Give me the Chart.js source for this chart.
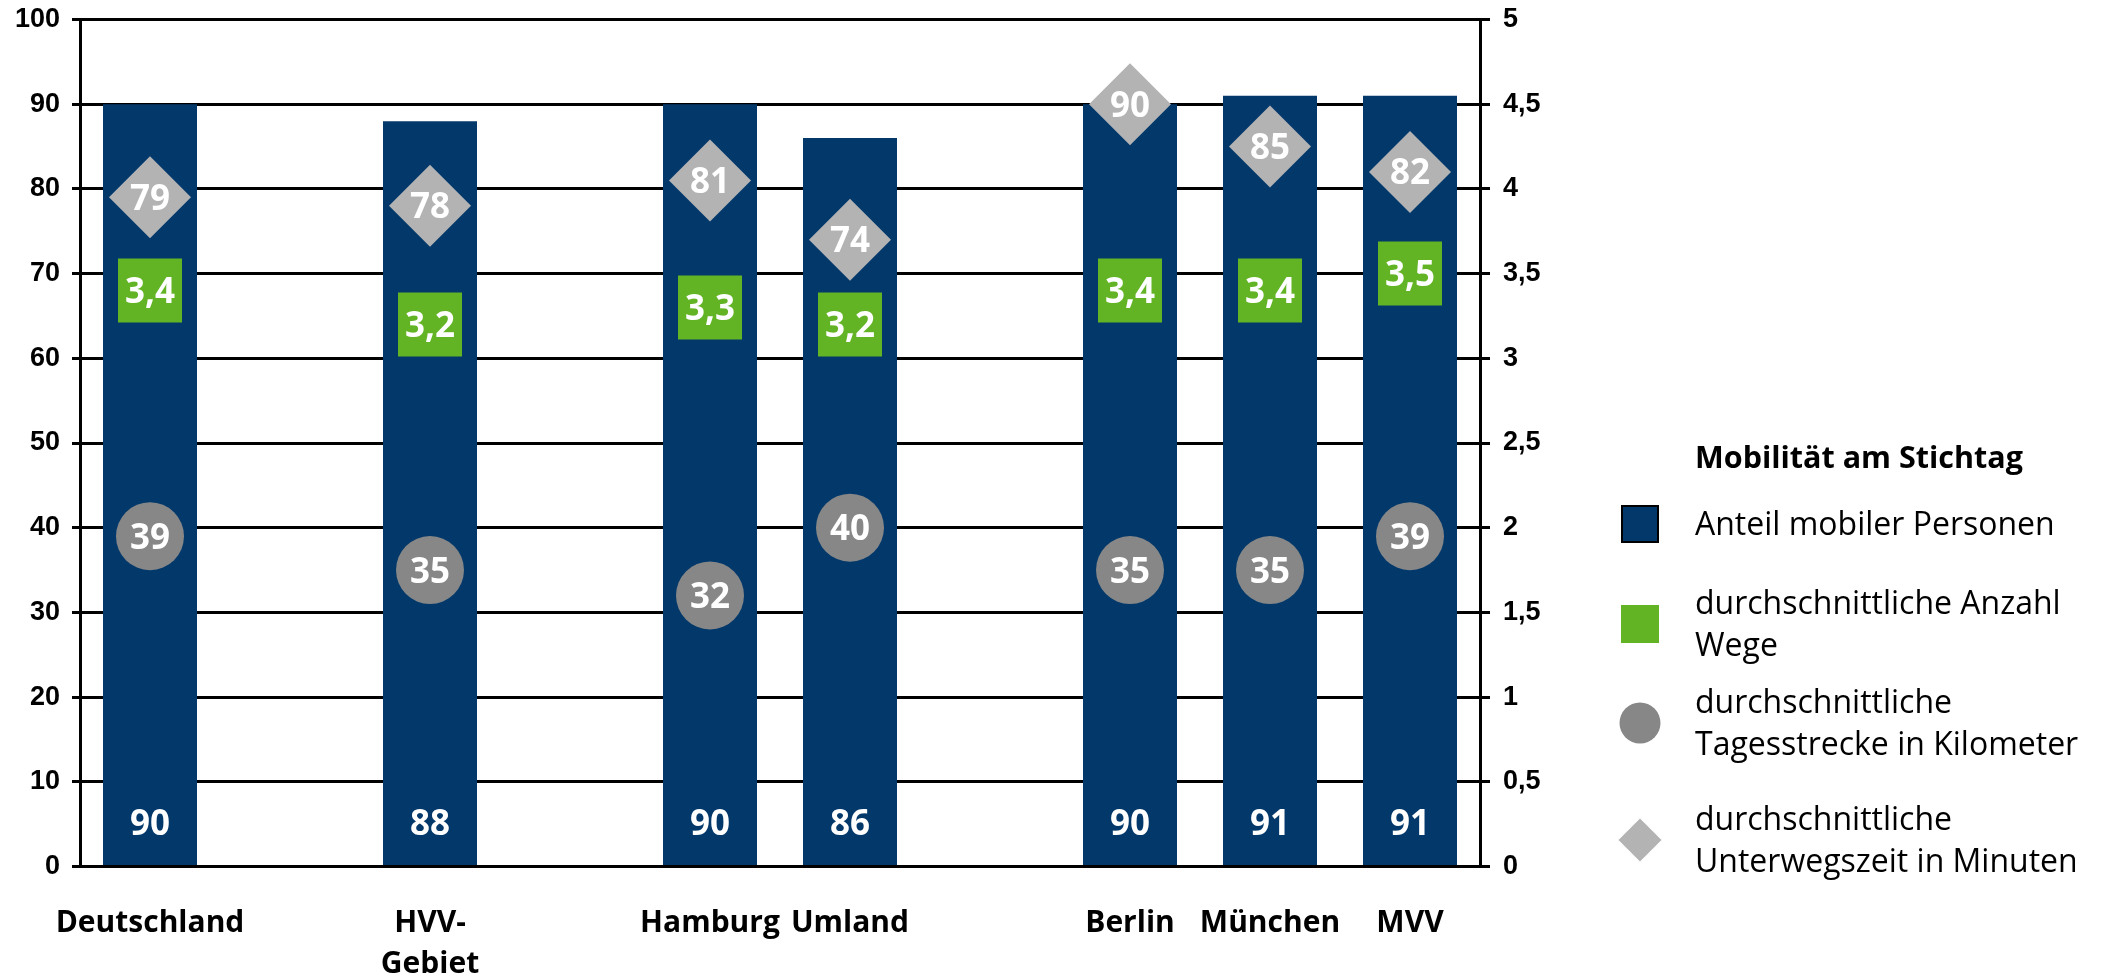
<!DOCTYPE html>
<html lang="de">
<head>
<meta charset="utf-8">
<title>Mobilität am Stichtag</title>
<script src="https://cdn.jsdelivr.net/npm/chart.js@4.4.1/dist/chart.umd.min.js"></script>
<style>
  html, body { margin: 0; padding: 0; background: #ffffff; }
  #wrap { position: relative; width: 2110px; height: 976px; }
  canvas { display: block; }
</style>
</head>
<body>
<div id="wrap"><canvas id="chart" width="2110" height="976"></canvas></div>
<script>
// Regions (empty strings are spacer slots between the groups)
const categories = ['Deutschland', '', ['HVV-', 'Gebiet'], '', 'Hamburg', 'Umland', '', 'Berlin', 'München', 'MVV'];

// Anteil mobiler Personen (%), left axis
const mobileShare = [90, null, 88, null, 90, 86, null, 90, 91, 91];
// durchschnittliche Anzahl Wege, right axis
const tripsPerDay = [3.4, null, 3.2, null, 3.3, 3.2, null, 3.4, 3.4, 3.5];
// durchschnittliche Tagesstrecke in Kilometer, left axis
const distanceKm = [39, null, 35, null, 32, 40, null, 35, 35, 39];
// durchschnittliche Unterwegszeit in Minuten, left axis
const travelMinutes = [79, null, 78, null, 81, 74, null, 90, 85, 82];

// Legend texts, one entry per line
const legendTitle = 'Mobilität am Stichtag';
const seriesNames = [
  ['Anteil mobiler Personen'],
  ['durchschnittliche Anzahl', 'Wege'],
  ['durchschnittliche', 'Tagesstrecke in Kilometer'],
  ['durchschnittliche', 'Unterwegszeit in Minuten']
];

const NAVY = '#03386b';
const GREEN = '#62b425';
const DARK_GREY = '#878787';
const LIGHT_GREY = '#b3b3b3';

const LABEL_FONT = '"Open Sans", "Noto Sans", sans-serif';
const TICK_FONT = '"Liberation Sans", Arial, sans-serif';

const fmt = v => String(v).replace('.', ',');

// White value labels on every mark
const valueLabels = {
  id: 'valueLabels',
  afterDatasetsDraw(chart) {
    const ctx = chart.ctx;
    const size = 35;
    ctx.save();
    ctx.font = 'bold ' + size + 'px ' + LABEL_FONT;
    ctx.fillStyle = '#ffffff';
    ctx.textAlign = 'center';
    ctx.textBaseline = 'alphabetic';
    const half = size * 0.357;
    chart.data.datasets.forEach((ds, di) => {
      const meta = chart.getDatasetMeta(di);
      meta.data.forEach((el, i) => {
        const v = ds.data[i];
        if (v === null || v === undefined) return;
        const y = meta.type === 'bar' ? el.base - 42 : el.y;
        ctx.fillText(fmt(v), el.x, y + half);
      });
    });
    ctx.restore();
  }
};

// Legend block on the right-hand side
const sideLegend = {
  id: 'sideLegend',
  afterDraw(chart, args, opts) {
    const ctx = chart.ctx;
    ctx.save();
    ctx.fillStyle = '#000000';
    ctx.textAlign = 'left';
    ctx.textBaseline = 'alphabetic';
    ctx.font = 'bold 30.5px ' + LABEL_FONT;
    ctx.fillText(legendTitle, opts.textX, opts.titleY);

    chart.data.datasets.forEach((ds, idx) => {
      const cy = opts.rowY[idx];
      const mx = opts.markerX;
      ctx.fillStyle = ds.legendColor;
      if (ds.legendMarker === 'box') {
        ctx.fillRect(mx - 19, cy - 19, 38, 38);
        ctx.lineWidth = 2;
        ctx.strokeStyle = '#000000';
        ctx.strokeRect(mx - 18, cy - 18, 36, 36);
      } else if (ds.legendMarker === 'square') {
        ctx.fillRect(mx - 19, cy - 19, 38, 38);
      } else if (ds.legendMarker === 'circle') {
        ctx.beginPath();
        ctx.arc(mx, cy, 20.5, 0, Math.PI * 2);
        ctx.fill();
      } else {
        ctx.beginPath();
        ctx.moveTo(mx, cy - 21.5);
        ctx.lineTo(mx + 21.5, cy);
        ctx.lineTo(mx, cy + 21.5);
        ctx.lineTo(mx - 21.5, cy);
        ctx.closePath();
        ctx.fill();
      }
      const lines = seriesNames[idx];
      ctx.fillStyle = '#000000';
      ctx.font = '32px ' + LABEL_FONT;
      if (lines.length === 1) {
        ctx.fillText(lines[0], opts.textX, cy + 11);
      } else {
        lines.forEach((t, j) => ctx.fillText(t, opts.textX, cy - 10 + j * 42));
      }
    });
    ctx.restore();
  }
};

// Keep the plot area edges exactly where the layout puts them
function noEdgePadding(scale) {
  scale.paddingTop = 0;
  scale.paddingBottom = 0;
}

const ctx = document.getElementById('chart').getContext('2d');
new Chart(ctx, {
  data: {
    labels: categories,
    datasets: [
      {
        type: 'bar',
        label: seriesNames[0].join(' '),
        data: mobileShare,
        yAxisID: 'y',
        backgroundColor: NAVY,
        borderWidth: 0,
        barPercentage: 94 / 140,
        categoryPercentage: 1,
        order: 10,
        legendColor: NAVY,
        legendMarker: 'box'
      },
      {
        type: 'line',
        label: seriesNames[1].join(' '),
        data: tripsPerDay,
        yAxisID: 'y2',
        showLine: false,
        clip: false,
        pointStyle: 'rect',
        pointRadius: 32 / Math.SQRT1_2,
        pointHoverRadius: 32 / Math.SQRT1_2,
        pointBackgroundColor: GREEN,
        pointBorderWidth: 0,
        order: 3,
        legendColor: GREEN,
        legendMarker: 'square'
      },
      {
        type: 'line',
        label: seriesNames[2].join(' '),
        data: distanceKm,
        yAxisID: 'y',
        showLine: false,
        clip: false,
        pointStyle: 'circle',
        pointRadius: 34,
        pointHoverRadius: 34,
        pointBackgroundColor: DARK_GREY,
        pointBorderWidth: 0,
        order: 2,
        legendColor: DARK_GREY,
        legendMarker: 'circle'
      },
      {
        type: 'line',
        label: seriesNames[3].join(' '),
        data: travelMinutes,
        yAxisID: 'y',
        showLine: false,
        clip: false,
        pointStyle: 'rectRot',
        pointRadius: 41,
        pointHoverRadius: 41,
        pointBackgroundColor: LIGHT_GREY,
        pointBorderWidth: 0,
        order: 1,
        legendColor: LIGHT_GREY,
        legendMarker: 'diamond'
      }
    ]
  },
  options: {
    responsive: false,
    animation: false,
    events: [],
    layout: { autoPadding: false, padding: { top: 19.5, right: 560, bottom: 0, left: 0 } },
    plugins: {
      legend: { display: false },
      tooltip: { enabled: false },
      sideLegend: { markerX: 1640, textX: 1695, titleY: 468, rowY: [524, 624, 723, 840] }
    },
    scales: {
      x: {
        type: 'category',
        offset: true,
        grid: { display: false, drawTicks: false, tickLength: 0 },
        border: { display: false },
        ticks: {
          color: '#000000',
          font: { family: LABEL_FONT, size: 30, weight: 'bold', lineHeight: 1.37 },
          padding: 36,
          maxRotation: 0,
          autoSkip: false
        },
        afterFit(scale) { scale.height = 109.5; }
      },
      y: {
        position: 'left',
        min: 0,
        max: 100,
        ticks: {
          stepSize: 10,
          color: '#000000',
          padding: 12,
          font: { family: TICK_FONT, size: 27, weight: 'bold' }
        },
        grid: { color: '#000000', lineWidth: 3, tickLength: 8, drawTicks: true },
        border: { display: true, color: '#000000', width: 3 },
        afterFit(scale) { scale.width = 80; noEdgePadding(scale); }
      },
      y2: {
        position: 'right',
        min: 0,
        max: 5,
        ticks: {
          stepSize: 0.5,
          color: '#000000',
          padding: 13,
          font: { family: TICK_FONT, size: 27, weight: 'bold' },
          callback: v => fmt(v)
        },
        grid: { drawOnChartArea: false, color: '#000000', lineWidth: 3, tickLength: 10 },
        border: { display: true, color: '#000000', width: 3 },
        afterFit(scale) { scale.width = 70; noEdgePadding(scale); }
      }
    }
  },
  plugins: [valueLabels, sideLegend]
});
</script>
</body>
</html>
